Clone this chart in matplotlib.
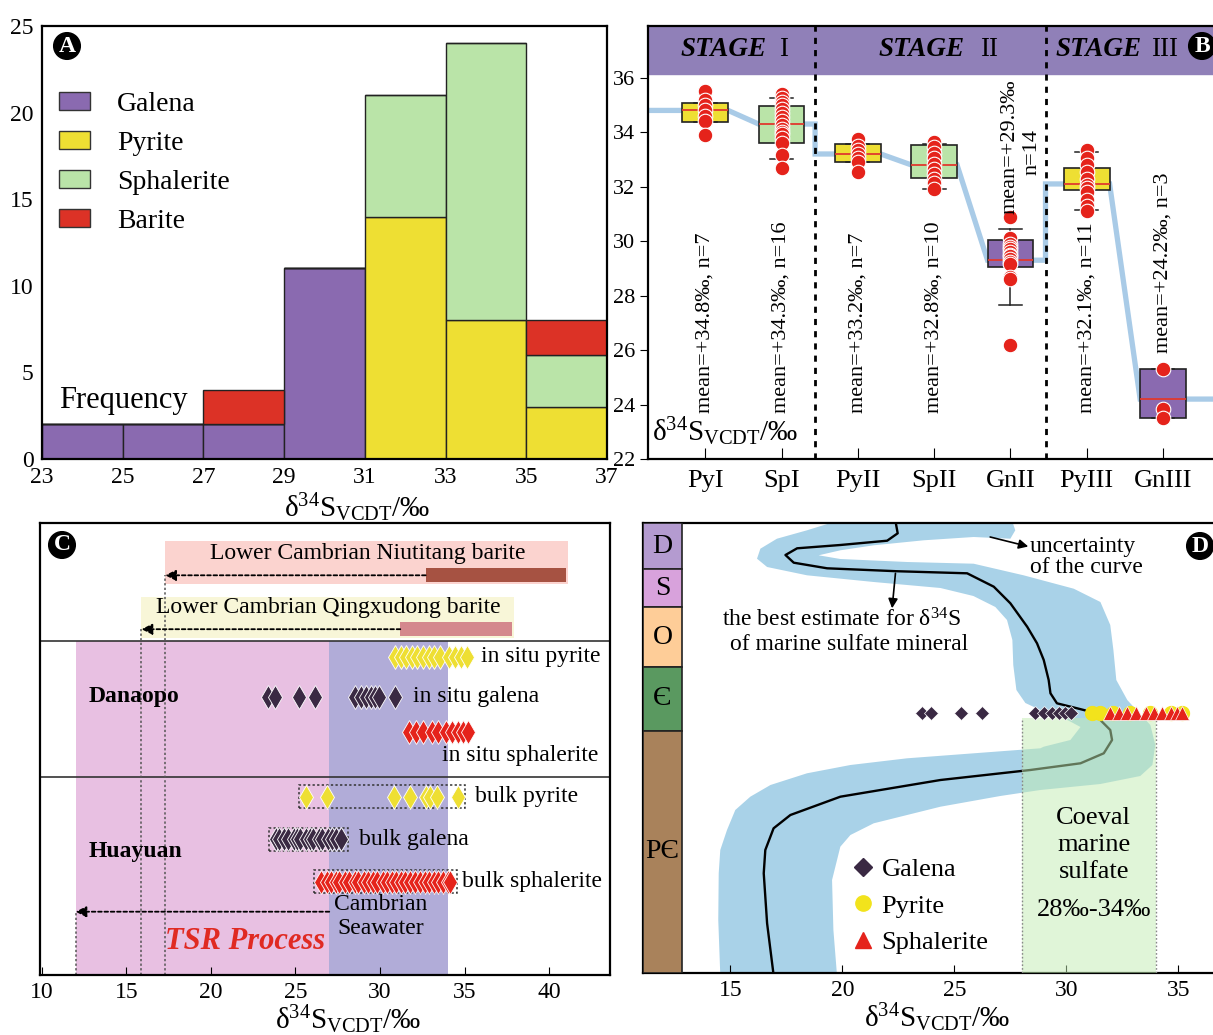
import matplotlib
matplotlib.use("Agg")
import matplotlib.pyplot as plt
from matplotlib.patches import Patch, Rectangle
from matplotlib.lines import Line2D

plt.rcParams["font.family"] = ["Liberation Serif", "DejaVu Serif"]
plt.rcParams["mathtext.fontset"] = "custom"
plt.rcParams["mathtext.rm"] = "Liberation Serif"
plt.rcParams["mathtext.it"] = "Liberation Serif:italic"
plt.rcParams["mathtext.bf"] = "Liberation Serif:bold"
plt.rcParams["axes.linewidth"] = 1.6

# ---------------------------------------------------------------- data
# (A) frequency of sulfur isotope values, 2 per-mil bins
bin_edges = [23, 25, 27, 29, 31, 33, 35, 37]
galena_counts = [2, 2, 2, 11, 0, 0, 0]
pyrite_counts = [0, 0, 0, 0, 14, 8, 3]
sphalerite_counts = [0, 0, 0, 0, 7, 16, 3]
barite_counts = [0, 0, 2, 0, 0, 0, 2]

# (B) values by mineral generation
generations = ["PyI", "SpI", "PyII", "SpII", "GnII", "PyIII", "GnIII"]
gen_values = [
    [35.5, 35.2, 35.0, 34.8, 34.6, 34.4, 33.9],
    [35.4, 35.25, 35.1, 35.0, 34.85, 34.7, 34.55, 34.4, 34.25, 34.1, 34.0,
     33.95, 33.8, 33.6, 33.15, 32.7],
    [33.75, 33.5, 33.35, 33.2, 33.05, 32.9, 32.55],
    [33.65, 33.45, 33.25, 33.05, 32.85, 32.65, 32.45, 32.3, 32.15, 31.9],
    [30.9, 30.1, 29.9, 29.8, 29.7, 29.6, 29.5, 29.45, 29.35, 29.25, 29.15,
     28.7, 28.6, 26.2],
    [33.35, 33.05, 32.8, 32.55, 32.3, 32.05, 31.95, 31.8, 31.5, 31.3, 31.1],
    [25.3, 23.85, 23.5],
]
gen_means = [34.8, 34.3, 33.2, 32.8, 29.3, 32.1, 24.2]
box_q1 = [34.38, 33.61, 32.90, 32.32, 29.04, 31.87, 23.50]
box_q3 = [35.08, 34.96, 33.58, 33.52, 30.05, 32.70, 25.30]
whisk_lo = [34.38, 33.03, 32.90, 31.90, 27.64, 31.13, 23.50]
whisk_hi = [35.08, 35.24, 33.58, 33.55, 30.46, 33.28, 25.30]
stage_numerals = ["I", "II", "III"]

# (C) in situ and bulk analyses
insitu_pyrite = [30.9, 31.25, 31.55, 31.9, 32.2, 32.55, 32.9, 33.2, 33.55,
                 34.1, 34.45, 34.8, 35.15]
insitu_galena = [23.4, 23.8, 25.2, 26.15, 28.5, 28.85, 29.2, 29.45, 29.7,
                 29.95, 30.9]
insitu_sphalerite = [31.7, 32.15, 32.55, 33.1, 33.45, 33.9, 34.25, 34.6,
                     34.9, 35.2]
bulk_pyrite = [25.6, 26.85, 30.8, 31.75, 32.75, 32.95, 33.4, 34.6]
bulk_galena = [23.85, 24.05, 24.35, 24.55, 24.9, 25.1, 25.3, 25.65, 25.85,
               26.05, 26.4, 26.6, 26.9, 27.15, 27.4, 27.7]
bulk_sphalerite = [26.5, 26.85, 27.1, 27.4, 27.6, 27.95, 28.15, 28.5, 28.7,
                   29.05, 29.3, 29.6, 29.85, 30.15, 30.4, 30.7, 30.95, 31.25,
                   31.5, 31.8, 32.1, 32.35, 32.65, 32.9, 33.2, 33.45, 33.75,
                   34.0, 34.15]
niutitang_range = (32.7, 41.0)
niutitang_low = 17.3
qingxudong_range = (31.2, 37.8)
qingxudong_low = 15.9
tsr_range = (12.0, 27.0)
seawater_range = (27.0, 34.0)

# (D) secular seawater sulfate curve (schematic vertical time scale)
periods = ["D", "S", "O", "Є", "PЄ"]
period_top = [450, 403.7, 365.7, 306.3, 242.3]
period_base = [403.7, 365.7, 306.3, 242.3, 0]
curve_d34s = [22.37, 22.47, 22.0, 19.91, 17.98, 17.46, 17.83, 19.32, 22.4,
              25.57, 26.76, 27.5, 28.25, 28.69, 28.99, 29.21, 29.29, 29.58,
              30.48, 31.07, 31.37, 31.96, 32.04, 31.67, 30.63, 28.39, 24.38,
              19.91, 17.68, 16.93, 16.56, 16.49, 16.64, 16.93]
curve_level = [452, 439.7, 432.3, 428, 424.7, 418, 410.3, 404.7, 401.8,
               399.7, 386.3, 369.7, 346.3, 329.7, 313, 293, 279.7, 269.7,
               264.7, 261.3, 256.3, 243, 233, 219.7, 209.7, 203, 193,
               176.3, 158, 144.7, 123, 99.7, 49.7, -2]
band_outer_d34s = [19.76, 18.42, 17.08, 16.34, 16.19, 16.64, 18.42, 21.40,
                   24.38, 25.85, 26.83, 27.35, 27.59, 27.63, 27.77, 28.17,
                   28.84, 29.88, 30.63, 30.18, 28.99, 28.84, 22.89, 20.36,
                   18.42, 16.79, 15.89, 15.22, 14.85, 14.55, 14.48, 14.46,
                   14.55]
band_outer_level = [452, 442.7, 434.3, 424.3, 414.3, 406, 397.7, 391, 385,
                    377, 366, 353, 333, 308, 283, 270, 263, 255, 246, 233,
                    226.3, 224.7, 214.7, 208, 199.7, 188, 176.3, 163, 143,
                    123, 99.7, 53, -2]
band_inner_d34s = [19.76, 19.6, 19.54, 19.91, 20.36, 21.40, 24.38, 27.05,
                   28.84, 31.52, 33.3, 33.84, 33.97, 33.75, 33.21, 32.72,
                   32.23, 32.1, 31.96, 31.52, 30.33, 28.09, 25.86, 22.89,
                   19.91, 18.94, 19.91, 21.4, 23.63, 25.86, 27.5, 27.72,
                   27.58]
band_inner_level = [-2, 43, 93, 126.3, 138, 149.7, 166.3, 177, 183, 189, 197,
                    208, 228, 248, 261, 273, 293, 323, 348, 371, 384.3,
                    397.7, 409.3, 411, 414, 417.7, 422.7, 427.7, 432.7, 436,
                    434.3, 442.7, 452]
d_galena = [23.55, 23.95, 25.3, 26.25, 28.6, 29.0, 29.35, 29.65, 29.95, 30.2]
d_pyrite = [31.15, 31.5, 32.1, 32.85, 33.75, 34.65, 35.15]
d_sphalerite = [31.95, 32.35, 32.7, 33.1, 33.55, 33.9, 34.25, 34.65, 34.95,
                35.15]
coeval_range = (28, 34)

# ---------------------------------------------------------------- styles
C_GN = "#8a6ab0"
C_PY = "#eedf33"
C_SP = "#bae4a8"
C_BA = "#dc3226"
C_RED = "#e5231b"
C_DARK = "#3a2943"
XLABEL = r"$\mathrm{δ^{34}S_{VCDT}}$/‰"

W, H = 1213, 1035
fig = plt.figure(figsize=(W / 100, H / 100), dpi=100)


def px_axes(left, top, right, bottom):
    return fig.add_axes([left / W, 1 - bottom / H, (right - left) / W,
                         (bottom - top) / H])


def panel_tag(x, y, letter):
    fig.text(x / W, 1 - y / H, letter, ha="center", va="center",
             color="white", fontsize=17, fontweight="bold",
             bbox=dict(boxstyle="circle,pad=0.12", fc="black", ec="black"))


# ================================================================ (A)
axA = px_axes(42, 26, 607, 459)
lefts = bin_edges[:-1]
bottom = [0] * len(lefts)
layers = [(galena_counts, C_GN, "Galena"), (pyrite_counts, C_PY, "Pyrite"),
          (sphalerite_counts, C_SP, "Sphalerite"),
          (barite_counts, C_BA, "Barite")]
for counts, col, lab in layers:
    axA.bar(lefts, counts, width=2, bottom=bottom, align="edge", color=col,
            edgecolor="#222222", linewidth=1.0)
    bottom = [b + c for b, c in zip(bottom, counts)]
axA.set_xlim(bin_edges[0], bin_edges[-1])
axA.set_ylim(0, 25)
axA.set_xticks(bin_edges)
axA.set_yticks(range(0, 26, 5))
axA.tick_params(length=0, labelsize=17, pad=6)
axA.set_xlabel(XLABEL, fontsize=21)
axA.xaxis.set_label_coords(0.557, -0.075)
axA.text(23.42, 3.4, "Frequency", fontsize=22, va="center", ha="left")
handles = [Patch(facecolor=c, edgecolor="#333333", linewidth=1.0, label=l)
           for _, c, l in layers]
axA.legend(handles=handles, loc="upper left", bbox_to_anchor=(0.03, 0.848),
           frameon=False, fontsize=20, handlelength=1.1, handleheight=0.65,
           handletextpad=1.0, labelspacing=0.5, borderpad=0,
           borderaxespad=0)
panel_tag(67, 46, "A")

# ================================================================ (B)
axB = px_axes(648, 26, 1223, 459)
x_lo = -0.75
axB.set_xlim(x_lo, x_lo + 575 / 76.3)
axB.set_ylim(22, 37.9)
axB.axhspan(36.15, 37.9, color="#9080b8", zorder=0.5)
stage_breaks = {2: 1.44, 5: 4.46}
for xb in stage_breaks.values():
    axB.axvline(xb, color="black", lw=2.0, ls=(0, (2.2, 2.2)), zorder=3)

pos = list(range(len(generations)))
# line through the generation means, running edge to edge between boxes
hw = 0.3
lx, ly = [x_lo, pos[0] + hw], [gen_means[0], gen_means[0]]
for i in range(1, len(pos)):
    if i in stage_breaks:
        xb = stage_breaks[i]
        lx += [xb, xb, pos[i] + hw]
        ly += [gen_means[i - 1], gen_means[i], gen_means[i]]
    else:
        lx += [pos[i] - hw, pos[i] + hw]
        ly += [gen_means[i], gen_means[i]]
lx.append(7.5)
ly.append(gen_means[-1])
axB.plot(lx, ly, color="#a9cbe7", lw=3.8, solid_joinstyle="miter", zorder=1)

stats = [dict(med=m, q1=a, q3=b, whislo=lo, whishi=hi, fliers=[], label=g)
         for g, m, a, b, lo, hi in zip(generations, gen_means, box_q1, box_q3,
                                       whisk_lo, whisk_hi)]
box_colors = [C_PY, C_SP, C_PY, C_SP, C_GN, C_PY, C_GN]
bp = axB.bxp(stats, positions=pos, widths=0.6, capwidths=0.3,
             patch_artist=True, showfliers=False, manage_ticks=False,
             boxprops=dict(edgecolor="#222222", linewidth=1.2),
             whiskerprops=dict(color="#222222", linewidth=1.1),
             capprops=dict(color="#222222", linewidth=1.1),
             medianprops=dict(color="#e0392e", linewidth=1.3), zorder=2)
for patch, col in zip(bp["boxes"], box_colors):
    patch.set_facecolor(col)

for p, vals in zip(pos, gen_values):
    axB.plot([p] * len(vals), vals, "o", color=C_RED, mec="white", mew=0.8,
             ms=10.5, zorder=5)

label_base = [23.7, 23.7, 23.7, 23.7, 31.0, 23.7, 25.9]
for p, m, vals, yb in zip(pos, gen_means, gen_values, label_base):
    if p == 4:
        axB.text(p, yb, f"mean=+{m:.1f}‰", rotation=90, ha="center",
                 va="bottom", fontsize=16, zorder=6)
        axB.text(p + 0.28, 33.27, f"n={len(vals)}", rotation=90,
                 ha="center", va="center", fontsize=16, zorder=6)
    else:
        axB.text(p, yb, f"mean=+{m:.1f}‰, n={len(vals)}", rotation=90,
                 ha="center", va="bottom", fontsize=16, zorder=6)

for xs, xn, num in zip((0.24, 2.83, 5.15), (1.02, 3.72, 6.02), stage_numerals):
    axB.text(xs, 37.02, "STAGE", fontsize=19.5, fontweight="bold",
             style="italic", ha="center", va="center", zorder=4)
    axB.text(xn, 37.02, num, fontsize=19.5, ha="center", va="center",
             zorder=4)

axB.set_xticks(pos)
axB.set_xticklabels(generations)
axB.set_yticks(range(22, 37, 2))
axB.tick_params(axis="x", direction="in", length=8, labelsize=19, pad=8)
axB.tick_params(axis="y", direction="out", length=6, labelsize=16, pad=3)
axB.text(-0.7, 23.0, XLABEL, fontsize=21, ha="left", va="center", zorder=6)
panel_tag(1202, 46, "B")

# ================================================================ (C)
axC = px_axes(40, 523, 610, 975)
axC.set_xlim(9.9, 43.6)
axC.set_ylim(0, 452)
sep_top, sep_mid = 334, 198.3
axC.axvspan(*tsr_range, ymin=0, ymax=sep_top / 452, color="#e8c0e2", lw=0,
            zorder=0)
axC.axvspan(*seawater_range, ymin=0, ymax=sep_top / 452, color="#b1acd8",
            lw=0, zorder=0)
axC.axhline(sep_top, color="#333333", lw=1.2, zorder=1)
axC.axhline(sep_mid, color="#333333", lw=1.2, zorder=1)

# barite reference ranges
y_niu, y_qing = 399.7, 345.8
axC.add_patch(Rectangle((niutitang_low, 391), niutitang_range[1] + 0.1 -
                        niutitang_low, 43, color="#fbd3cf", lw=0, zorder=0))
axC.add_patch(Rectangle((qingxudong_low, 336.7), qingxudong_range[1] + 0.1 -
                        qingxudong_low, 41.6, color="#f8f6d8", lw=0,
                        zorder=0))
axC.barh(y_niu, niutitang_range[1] - niutitang_range[0],
         left=niutitang_range[0], height=14, color="#a65242", zorder=2)
axC.barh(y_qing, qingxudong_range[1] - qingxudong_range[0],
         left=qingxudong_range[0], height=14, color="#d4888d", zorder=2)
axC.text(29.3, 421.7, "Lower Cambrian Niutitang barite", fontsize=17,
         ha="center", va="center")
axC.text(26.96, 367.7, "Lower Cambrian Qingxudong barite", fontsize=17,
         ha="center", va="center")

arrow_kw = dict(arrowstyle="-|>", color="black", lw=1.3, linestyle=(0, (2, 1.5)),
                mutation_scale=16, shrinkA=0, shrinkB=0)
y_tsr = 63.3
for x0, x1, yy in ((niutitang_range[0], niutitang_low, y_niu),
                   (qingxudong_range[0], qingxudong_low, y_qing),
                   (seawater_range[0], tsr_range[0], y_tsr)):
    axC.annotate("", xy=(x1, yy), xytext=(x0, yy), arrowprops=arrow_kw,
                 zorder=3)
    axC.plot([x1, x1], [0, yy], color="#555555", lw=1.1, ls=(0, (1.5, 1.5)),
             zorder=2)

diamond = dict(ls="none", marker="d", ms=12, mec="white", mew=0.6, zorder=4)
rows = [
    (insitu_pyrite, C_PY, 318.3, "in situ pyrite", 35.97, 318.3),
    (insitu_galena, C_DARK, 278.3, "in situ galena", 31.96, 278.3),
    (insitu_sphalerite, C_RED, 242.7, "in situ sphalerite", 33.64, 220.0),
    (bulk_pyrite, C_PY, 178.3, "bulk pyrite", 35.64, 178.3),
    (bulk_galena, C_DARK, 135.7, "bulk galena", 28.77, 135.7),
    (bulk_sphalerite, C_RED, 93.3, "bulk sphalerite", 34.86, 93.3),
]
for k, (vals, col, yy, lab, xt, yt) in enumerate(rows):
    axC.plot(vals, [yy] * len(vals), color=col, **diamond)
    axC.text(xt, yt, lab, fontsize=17, ha="left", va="center", zorder=5)
    if lab.startswith("bulk"):
        pad = 0.4
        axC.add_patch(Rectangle((min(vals) - pad, yy - 11.5),
                                max(vals) - min(vals) + 2 * pad, 23,
                                fill=False, ls=(0, (1.5, 1.5)), lw=1.1,
                                ec="#333333", zorder=3))
axC.text(12.77, 278.3, "Danaopo", fontsize=17, fontweight="bold",
         ha="left", va="center")
axC.text(12.77, 123.3, "Huayuan", fontsize=17, fontweight="bold",
         ha="left", va="center")
axC.text(30.03, 58.5, "Cambrian\nSeawater", fontsize=17, ha="center",
         va="center", linespacing=1.15)
axC.text(17.3, 33.3, "TSR Process", fontsize=22, fontweight="bold",
         style="italic", color="#e02a22", ha="left", va="center")
axC.set_yticks([])
axC.set_xticks(range(10, 41, 5))
axC.tick_params(axis="x", direction="in", length=6, labelsize=17, pad=5)
axC.set_xlabel(XLABEL, fontsize=21, labelpad=0)
axC.xaxis.set_label_coords(0.54, -0.062)
panel_tag(62, 545, "C")

# ================================================================ (D)
axD = px_axes(643, 523, 1222, 973)
axD.set_xlim(11.1, 11.1 + 579 / 22.4)
axD.set_ylim(0, 450)
axD.fill(band_outer_d34s + band_inner_d34s, band_outer_level + band_inner_level,
         color="#a9d2e8", lw=0, zorder=1)
axD.plot(curve_d34s, curve_level, color="black", lw=1.7, zorder=2)
box_top = 255
axD.add_patch(Rectangle((coeval_range[0], 0), coeval_range[1] - coeval_range[0],
                        box_top, color="#c2ecb2", alpha=0.5, lw=0, zorder=3))
for xb in coeval_range:
    axD.plot([xb, xb], [0, box_top], color="#888888", lw=1.0,
             ls=(0, (1.2, 1.5)), zorder=3)

col_colors = ["#b49bd0", "#d8a2dc", "#fecd98", "#5a9960", "#a9825b"]
for name, top, base, col in zip(periods, period_top, period_base, col_colors):
    axD.add_patch(Rectangle((11.1, base), 12.84 - 11.1, top - base,
                            facecolor=col, edgecolor="#222222", lw=1.2,
                            zorder=4))
    axD.text(11.97, (top + base) / 2, name, fontsize=20, ha="center",
             va="center", zorder=5)

y_pts = 260
axD.plot(d_galena, [y_pts] * len(d_galena), ls="none", marker="D", ms=7.5,
         color=C_DARK, mec="white", mew=0.5, zorder=6)
axD.plot(d_pyrite, [y_pts] * len(d_pyrite), ls="none", marker="o", ms=10,
         color="#f2e31c", mec="#f2e31c", zorder=6)
axD.plot(d_sphalerite, [y_pts] * len(d_sphalerite), ls="none", marker="^",
         ms=10, color=C_RED, mec="white", mew=0.5, zorder=7)

leg_handles = [
    Line2D([], [], ls="none", marker="D", ms=9, color=C_DARK, label="Galena"),
    Line2D([], [], ls="none", marker="o", ms=11, color="#f2e31c",
           label="Pyrite"),
    Line2D([], [], ls="none", marker="^", ms=11, color=C_RED,
           label="Sphalerite"),
]
axD.legend(handles=leg_handles, loc="upper left", bbox_to_anchor=(20.4, 115),
           bbox_transform=axD.transData, frameon=False, fontsize=19,
           handlelength=0.9, handletextpad=0.25, labelspacing=0.48,
           borderpad=0, borderaxespad=0)

axD.text(28.38, 416, "uncertainty\nof the curve", fontsize=17, ha="left",
         va="center", linespacing=0.95, zorder=6)
axD.annotate("", xy=(28.3, 426.5), xytext=(26.6, 436),
             arrowprops=dict(arrowstyle="-|>", color="black", lw=1.2,
                             mutation_scale=14, shrinkA=0, shrinkB=0))
axD.text(19.96, 353, r"the best estimate for δ$^{34}$S", fontsize=17,
         ha="center", va="center", zorder=6)
axD.text(20.3, 329, "of marine sulfate mineral", fontsize=17, ha="center",
         va="center", zorder=6)
axD.annotate("", xy=(22.22, 364.7), xytext=(22.37, 399.7),
             arrowprops=dict(arrowstyle="-|>", color="black", lw=1.2,
                             mutation_scale=14, shrinkA=0, shrinkB=0))
axD.text(31.22, 128, "Coeval\nmarine\nsulfate", fontsize=19, ha="center",
         va="center", linespacing=1.28, zorder=6)
axD.text(31.22, 63, f"{coeval_range[0]}‰-{coeval_range[1]}‰", fontsize=19,
         ha="center", va="center", zorder=6)

axD.set_yticks([])
axD.set_xticks(range(15, 36, 5))
axD.tick_params(axis="x", direction="in", length=6, labelsize=17, pad=5)
axD.set_xlabel(XLABEL, fontsize=21, labelpad=0)
axD.xaxis.set_label_coords(0.508, -0.062)
panel_tag(1200, 546, "D")

fig.savefig("out.png", dpi=100)
